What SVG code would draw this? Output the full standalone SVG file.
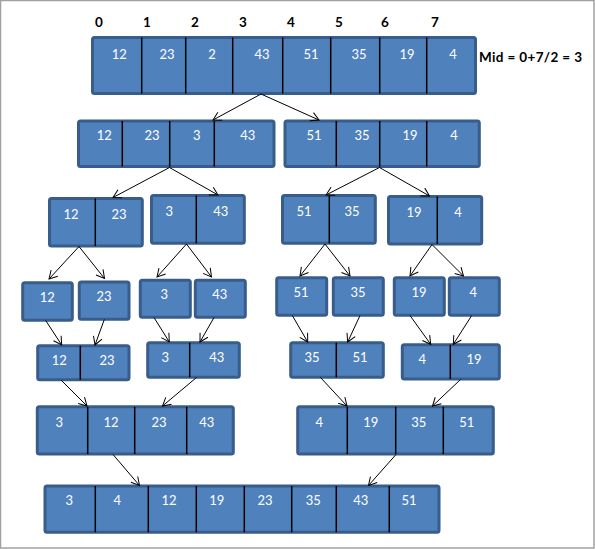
<svg xmlns="http://www.w3.org/2000/svg" width="595" height="549" viewBox="0 0 595 549">
<style>
.box{fill:#4F81BD;stroke:#385D8A;stroke-width:3}
.div{stroke:#000;stroke-width:1.5}
.t{font-family:Lato,"Open Sans",sans-serif;font-size:13px;fill:#fff;text-anchor:middle}
.idx{font-family:Lato,"Liberation Sans",sans-serif;font-size:13.5px;font-weight:bold;fill:#000;text-anchor:middle}
.arr{stroke:#000;stroke-width:1;fill:none;marker-end:url(#ah)}
</style>
<defs>
<marker id="ah" markerUnits="userSpaceOnUse" markerWidth="12" markerHeight="12" refX="9" refY="5" orient="auto" viewBox="0 0 12 10">
<path d="M1,0.5 L9,5 L1,9.5" fill="none" stroke="#000" stroke-width="1"/>
</marker>
</defs>
<rect x="0.5" y="0.5" width="593.5" height="547.5" fill="#fff" stroke="#A0A0A0" stroke-width="1.5"/>
<g id="indices">
<text class="idx" x="99" y="26.5">0</text>
<text class="idx" x="147" y="26.5">1</text>
<text class="idx" x="195" y="26.5">2</text>
<text class="idx" x="243" y="26.5">3</text>
<text class="idx" x="291" y="26.5">4</text>
<text class="idx" x="339" y="26.5">5</text>
<text class="idx" x="385" y="26.5">6</text>
<text class="idx" x="435" y="26.5">7</text>
<text class="idx" x="479" y="62" style="text-anchor:start" textLength="103">Mid = 0+7/2 = 3</text>
</g>
<g id="n1">
<rect class="box" x="92.5" y="37.5" width="383" height="56" rx="2"/>
<path class="div" d="M141.7,37.5V93.5M185.7,37.5V93.5M232.7,37.5V93.5M282.7,37.5V93.5M330.7,37.5V93.5M379.7,37.5V93.5M426.7,37.5V93.5"/>
<text class="t" x="119.3" y="58.5">12</text><text class="t" x="167" y="58.5">23</text><text class="t" x="212" y="58.5">2</text><text class="t" x="262" y="58.5">43</text><text class="t" x="311" y="58.5">51</text><text class="t" x="359" y="58.5">35</text><text class="t" x="407" y="58.5">19</text><text class="t" x="453" y="58.5">4</text>
</g>
<g id="n2a">
<rect class="box" x="78.5" y="121" width="195.5" height="45.5" rx="2"/>
<path class="div" d="M122.3,121V166.5M169.7,121V166.5M214.3,121V166.5"/>
<text class="t" x="104.3" y="140.2">12</text><text class="t" x="152" y="140.2">23</text><text class="t" x="196.7" y="140.2">3</text><text class="t" x="247.7" y="140.2">43</text>
</g>
<g id="n2b">
<rect class="box" x="285" y="121" width="194.3" height="45.5" rx="2"/>
<path class="div" d="M336.3,121V166.5M379.7,121V166.5M426.7,121V166.5"/>
<text class="t" x="314" y="140.2">51</text><text class="t" x="362" y="140.2">35</text><text class="t" x="410" y="140.2">19</text><text class="t" x="454" y="140.2">4</text>
</g>
<g id="n3a">
<rect class="box" x="49.5" y="198.5" width="92.8" height="47.5" rx="2"/>
<path class="div" d="M95.3,198.5V246"/>
<text class="t" x="71" y="218.8">12</text><text class="t" x="119" y="218.8">23</text>
</g>
<g id="n3b">
<rect class="box" x="151.5" y="195.5" width="92.8" height="47.8" rx="2"/>
<path class="div" d="M196.3,195.5V243.3"/>
<text class="t" x="169.3" y="216.2">3</text><text class="t" x="220.7" y="216.2">43</text>
</g>
<g id="n3c">
<rect class="box" x="282.5" y="195.5" width="92.8" height="47.8" rx="2"/>
<path class="div" d="M329.3,195.5V243.3"/>
<text class="t" x="304" y="216.2">51</text><text class="t" x="352" y="216.2">35</text>
</g>
<g id="n3d">
<rect class="box" x="388.5" y="196.5" width="93.2" height="47.5" rx="2"/>
<path class="div" d="M437.3,196.5V244"/>
<text class="t" x="414" y="216.8">19</text><text class="t" x="458" y="216.8">4</text>
</g>
<g id="n4a"><rect class="box" x="22.7" y="282.7" width="49.6" height="37.6" rx="2"/><text class="t" x="47.3" y="301.8">12</text></g>
<g id="n4b"><rect class="box" x="79.3" y="282" width="49.7" height="37.3" rx="2"/><text class="t" x="104" y="301.2">23</text></g>
<g id="n4c"><rect class="box" x="140.3" y="280.3" width="50" height="37" rx="2"/><text class="t" x="164.3" y="298.8">3</text></g>
<g id="n4d"><rect class="box" x="195.3" y="280.3" width="50" height="37" rx="2"/><text class="t" x="219.7" y="298.8">43</text></g>
<g id="n4e"><rect class="box" x="276.7" y="277.7" width="50" height="37.6" rx="2"/><text class="t" x="301" y="296.8">51</text></g>
<g id="n4f"><rect class="box" x="333.3" y="277.7" width="50" height="37.6" rx="2"/><text class="t" x="358" y="296.8">35</text></g>
<g id="n4g"><rect class="box" x="394.3" y="277.7" width="50" height="37.6" rx="2"/><text class="t" x="419" y="296.8">19</text></g>
<g id="n4h"><rect class="box" x="449.3" y="277.7" width="50" height="37.6" rx="2"/><text class="t" x="473.3" y="296.8">4</text></g>
<g id="n5a">
<rect class="box" x="37.7" y="345.7" width="91.3" height="34" rx="2"/>
<path class="div" d="M80.3,345.7V379.7"/>
<text class="t" x="59.3" y="365.2">12</text><text class="t" x="107" y="365.2">23</text>
</g>
<g id="n5b">
<rect class="box" x="147.7" y="342.7" width="91.6" height="34.6" rx="2"/>
<path class="div" d="M189.7,342.7V377.3"/>
<text class="t" x="165.3" y="361.8">3</text><text class="t" x="216.7" y="361.8">43</text>
</g>
<g id="n5c">
<rect class="box" x="290.7" y="342.7" width="92.6" height="34.6" rx="2"/>
<path class="div" d="M336.3,342.7V377.3"/>
<text class="t" x="312" y="361.8">35</text><text class="t" x="360" y="361.8">51</text>
</g>
<g id="n5d">
<rect class="box" x="402.3" y="344.7" width="97" height="34.3" rx="2"/>
<path class="div" d="M450.3,344.7V379"/>
<text class="t" x="422.3" y="363.8">4</text><text class="t" x="474" y="363.8">19</text>
</g>
<g id="n6a">
<rect class="box" x="37.3" y="406.7" width="196" height="47.3" rx="2"/>
<path class="div" d="M87.7,406.7V454M134.7,406.7V454M186.7,406.7V454"/>
<text class="t" x="59.3" y="426.8">3</text><text class="t" x="111" y="426.8">12</text><text class="t" x="159" y="426.8">23</text><text class="t" x="206.7" y="426.8">43</text>
</g>
<g id="n6b">
<rect class="box" x="297.7" y="406.7" width="195.6" height="47.3" rx="2"/>
<path class="div" d="M347.3,406.7V454M395.7,406.7V454M443.3,406.7V454"/>
<text class="t" x="319.3" y="426.8">4</text><text class="t" x="370.7" y="426.8">19</text><text class="t" x="418.7" y="426.8">35</text><text class="t" x="466.7" y="426.8">51</text>
</g>
<g id="n7">
<rect class="box" x="45" y="486" width="394" height="46.3" rx="2"/>
<path class="div" d="M95.3,486V532.3M148.3,486V532.3M196.3,486V532.3M244.3,486V532.3M291.7,486V532.3M336.3,486V532.3M389.3,486V532.3"/>
<text class="t" x="69.3" y="504.5">3</text><text class="t" x="117.3" y="504.5">4</text><text class="t" x="169" y="504.5">12</text><text class="t" x="216.7" y="504.5">19</text><text class="t" x="265" y="504.5">23</text><text class="t" x="313.3" y="504.5">35</text><text class="t" x="360.7" y="504.5">43</text><text class="t" x="409" y="504.5">51</text>
</g>
<g id="connectors">
<line class="arr" x1="261" y1="94" x2="213" y2="120"/>
<line class="arr" x1="261" y1="94" x2="319" y2="120"/>
<line class="arr" x1="169.5" y1="167.5" x2="113" y2="197.5"/>
<line class="arr" x1="169.5" y1="167.5" x2="218" y2="195"/>
<line class="arr" x1="379.5" y1="167.5" x2="326" y2="195"/>
<line class="arr" x1="379.5" y1="167.5" x2="429.5" y2="196"/>
<line class="arr" x1="79" y1="246.5" x2="49" y2="279"/>
<line class="arr" x1="79" y1="246.5" x2="104.5" y2="278.5"/>
<line class="arr" x1="186.5" y1="244" x2="157" y2="277"/>
<line class="arr" x1="186.5" y1="244" x2="211.5" y2="277"/>
<line class="arr" x1="325" y1="244" x2="300" y2="276"/>
<line class="arr" x1="325" y1="244" x2="350" y2="276"/>
<line class="arr" x1="432" y1="244.5" x2="410" y2="276"/>
<line class="arr" x1="432" y1="244.5" x2="463.5" y2="276"/>
<line class="arr" x1="45.7" y1="320.5" x2="61.7" y2="345"/>
<line class="arr" x1="104.3" y1="319.5" x2="95" y2="345"/>
<line class="arr" x1="154" y1="317.5" x2="169.3" y2="342"/>
<line class="arr" x1="214" y1="317.5" x2="200" y2="342"/>
<line class="arr" x1="292.3" y1="315.5" x2="307.7" y2="342"/>
<line class="arr" x1="360" y1="315.5" x2="347.7" y2="342"/>
<line class="arr" x1="410" y1="315.5" x2="430.7" y2="344.3"/>
<line class="arr" x1="471.7" y1="315.5" x2="453.3" y2="344.3"/>
<line class="arr" x1="61" y1="380" x2="87" y2="406"/>
<line class="arr" x1="196.5" y1="377.5" x2="162.5" y2="406"/>
<line class="arr" x1="320.5" y1="377.5" x2="347" y2="406"/>
<line class="arr" x1="460.5" y1="379.5" x2="432.5" y2="406"/>
<line class="arr" x1="113" y1="454.5" x2="139.5" y2="485.5"/>
<line class="arr" x1="396" y1="454.5" x2="368.5" y2="485.5"/>
</g>
</svg>
